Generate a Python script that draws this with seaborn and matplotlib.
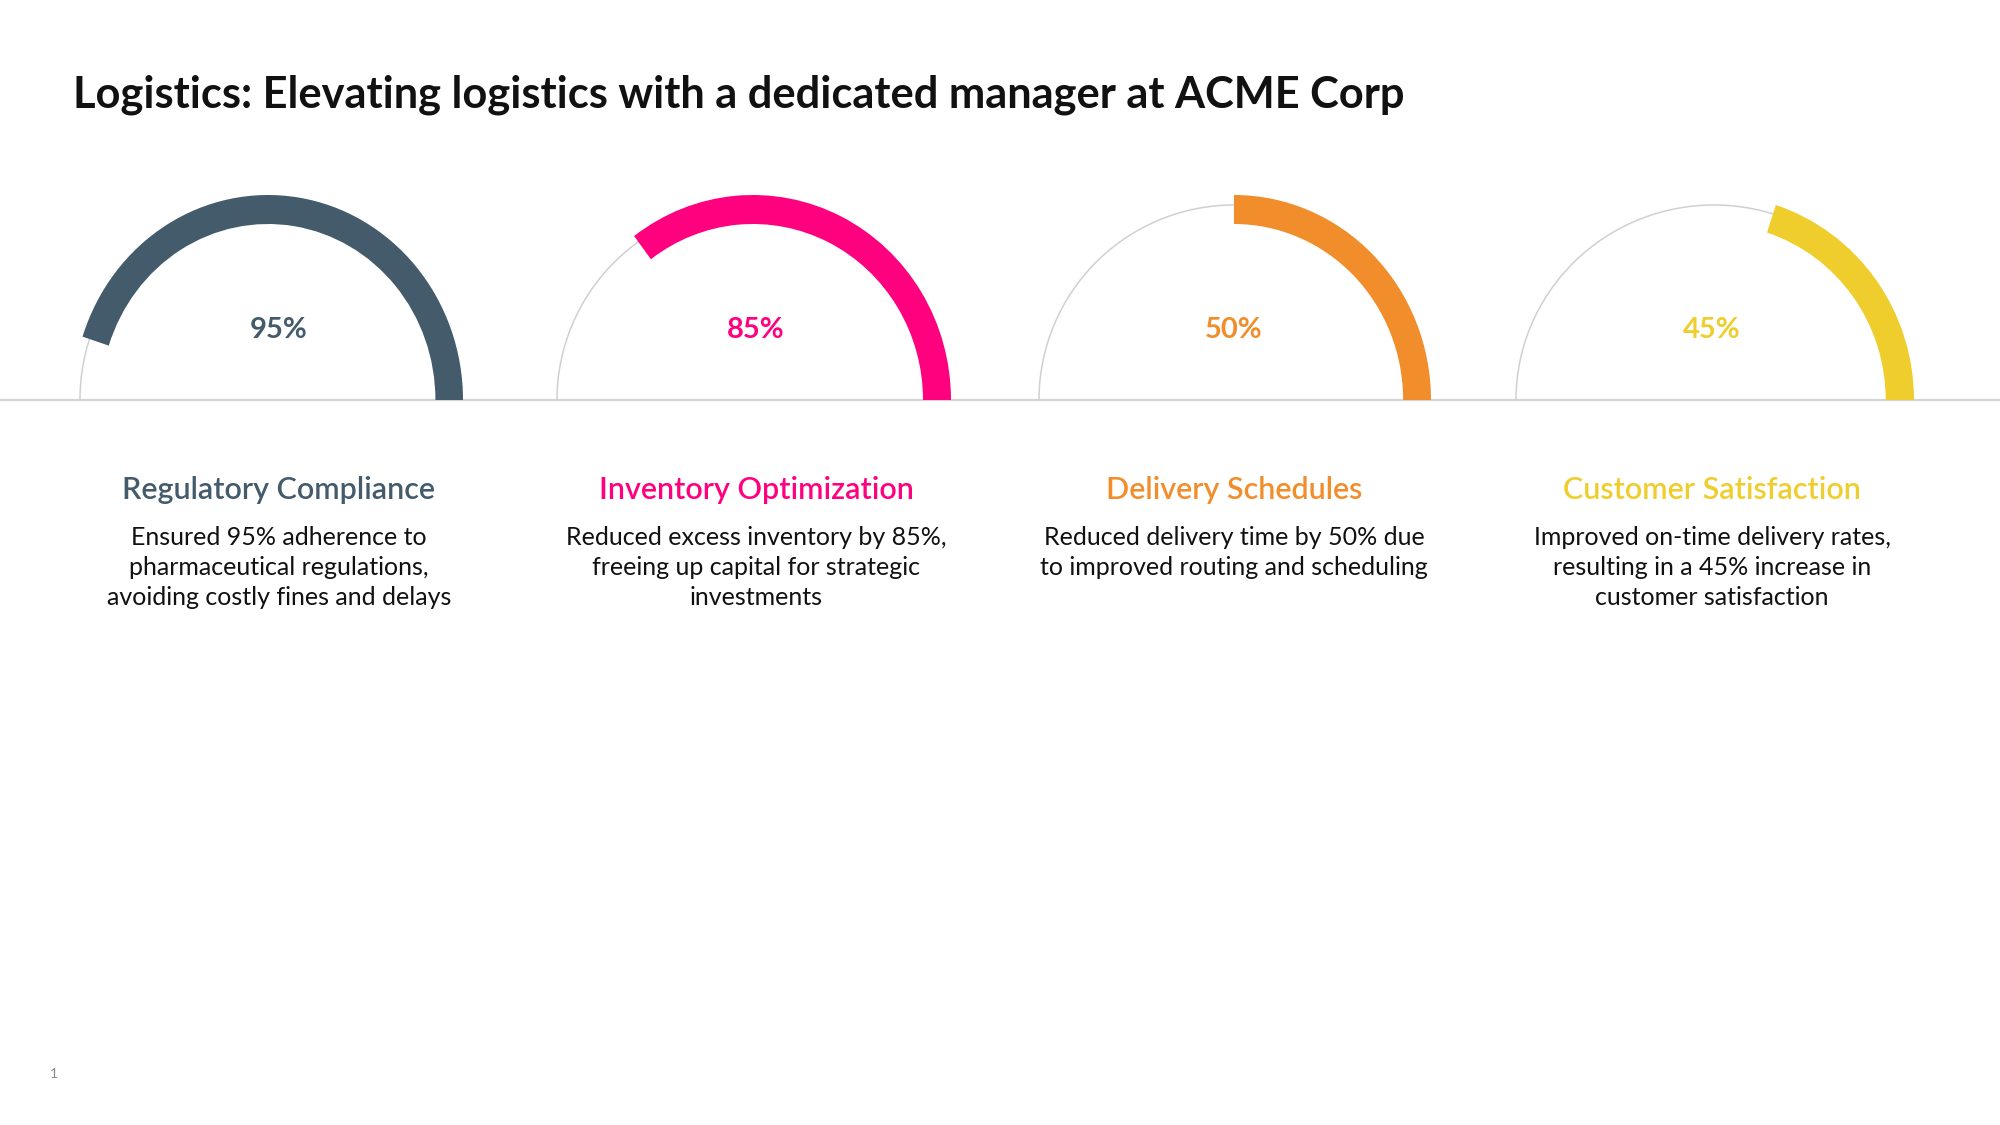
import matplotlib
matplotlib.use("Agg")
import matplotlib.pyplot as plt
from matplotlib.patches import Wedge, Arc
from matplotlib.transforms import Affine2D
import seaborn as sns

# data
categories = ["Regulatory Compliance", "Inventory Optimization",
              "Delivery Schedules", "Customer Satisfaction"]
values = [95, 85, 50, 45]
# share of the half ring that is actually coloured in the picture
arc_fill = [0.90, 0.705, 0.50, 0.40]
descriptions = [
    "Ensured 95% adherence to\npharmaceutical regulations,\navoiding costly fines and delays",
    "Reduced excess inventory by 85%,\nfreeing up capital for strategic\ninvestments",
    "Reduced delivery time by 50% due\nto improved routing and scheduling",
    "Improved on-time delivery rates,\nresulting in a 45% increase in\ncustomer satisfaction",
]
colors = ["#445b6c", "#ff007f", "#f18d2b", "#eecd2c"]
title = "Logistics: Elevating logistics with a dedicated manager at ACME Corp"

sns.set_theme(style="white")
plt.rcParams["font.family"] = ["Lato", "DejaVu Sans"]
palette = sns.color_palette(colors)

W, H = 2000, 1125
fig = plt.figure(figsize=(W / 100, H / 100), dpi=100)
ax = fig.add_axes([0, 0, 1, 1])
ax.set_xlim(0, W)
ax.set_ylim(H, 0)
ax.axis("off")

centers = [268, 753, 1234, 1714]
label_x = [279, 756, 1234, 1712]
# the rings are slightly squashed sideways on the slide
x_radius = [195, 198, 197, 200]
gray_x = [188, 196, 195, 198]
base_y = 400
r_out, ring_w, r_gray_y = 205, 29, 195

# baseline
ax.plot([0, W], [base_y, base_y], color="#d4d4d4", lw=1.6, zorder=1)

for i, cat in enumerate(categories):
    tr = Affine2D().scale(x_radius[i] / r_out, 1).translate(centers[i], base_y) + ax.transData
    ax.add_patch(Arc((centers[i], base_y), 2 * gray_x[i], 2 * r_gray_y,
                     theta1=-180, theta2=0, color="#d0d0d0", lw=1.1, zorder=2))
    ax.add_patch(Wedge((0, 0), r_out, -180 * arc_fill[i], 0, width=ring_w,
                       facecolor=palette[i], edgecolor="none", zorder=3, transform=tr))
    ax.text(label_x[i], 330, f"{values[i]}%", color=palette[i], fontsize=21,
            fontweight="bold", ha="center", va="center")
    ax.text(label_x[i], 490, cat, color=palette[i], fontsize=22,
            fontweight="semibold", ha="center", va="center")
    ax.text(label_x[i], 526, descriptions[i], color="#111111", fontsize=18,
            ha="center", va="top", linespacing=1.36)

ax.text(73, 95, title, fontsize=31.2, fontweight="bold", color="#111111",
        ha="left", va="center")
ax.text(54, 1074, "1", fontsize=10, color="#888888", ha="center", va="center")

fig.savefig("out.png", dpi=100, facecolor="white")
